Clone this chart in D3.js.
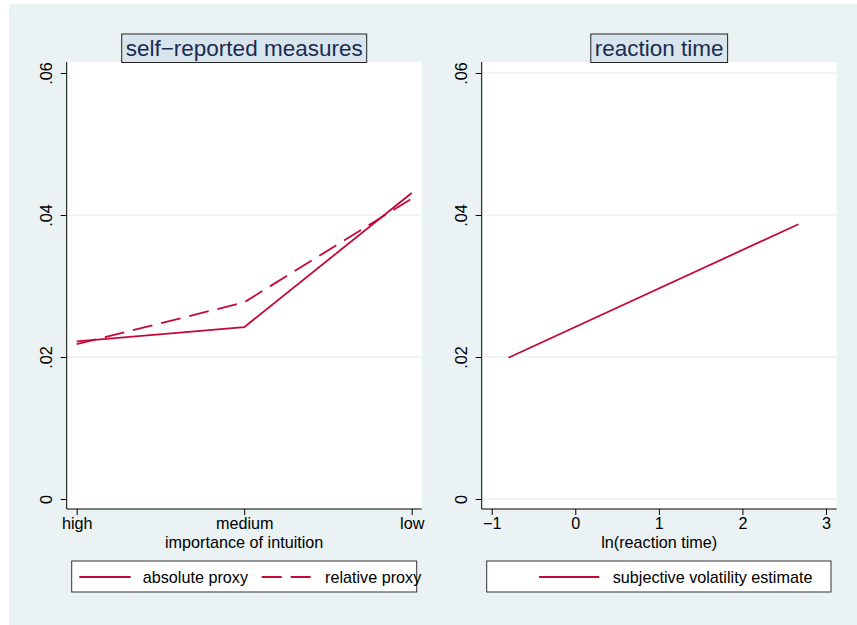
<!DOCTYPE html>
<html><head><meta charset="utf-8">
<script src="https://cdn.jsdelivr.net/npm/d3@7/dist/d3.min.js"></script>
<style>body{margin:0;background:#fff;overflow:hidden}svg{display:block;font-family:"Liberation Sans",Arial,sans-serif}</style>
</head><body>
<script>
// Data
const categories = ["high", "medium", "low"];
const absoluteProxy = [0.0222, 0.0242, 0.0431];
const relativeProxy = [0.0218, 0.0277, 0.0423];
const rtX = [-0.80, 2.67];
const rtY = [0.0199, 0.0387];
const yTicks = [0, 0.02, 0.04, 0.06];
const yTickLabels = ["0", ".02", ".04", ".06"];
const rtXTicks = [-1, 0, 1, 2, 3];

const W = 857, H = 625;
const red = "#c4093a";
const FS = 16.2;
const svg = d3.select("body").append("svg").attr("width", W).attr("height", H);
svg.append("rect").attr("x", 9).attr("y", 4).attr("width", W - 9).attr("height", H - 4).attr("fill", "#eaf2f3");

function panel(opts) {
  const {left, right, top, bottom, title, xScale, xTicks, xFmt, xLabel, gridVals} = opts;
  const y = d3.scaleLinear().domain([0, 0.06]).range([499, 73]);
  const g = svg.append("g");
  g.append("rect").attr("x", left).attr("y", top).attr("width", right - left).attr("height", bottom - top).attr("fill", "#fff");
  g.selectAll(".grid").data(gridVals).enter().append("line")
    .attr("x1", left).attr("x2", right).attr("y1", d => y(d)).attr("y2", d => y(d))
    .attr("stroke", "#eaf2f3").attr("stroke-width", 1.5);
  const ya = g.append("g").attr("transform", `translate(${left},0)`)
    .call(d3.axisLeft(y).tickValues(yTicks).tickFormat((d, i) => yTickLabels[i]).tickSize(6).tickPadding(0));
  ya.select(".domain").attr("d", `M0,${top}V${bottom}`).attr("stroke", "#000");
  ya.selectAll(".tick line").attr("stroke", "#000");
  ya.selectAll(".tick text").attr("font-size", FS).attr("fill", "#000")
    .attr("transform", "rotate(-90)").attr("x", 0).attr("y", -14.5).attr("dy", 0).attr("text-anchor", "middle");
  const xa = g.append("g").attr("transform", `translate(0,${bottom})`)
    .call(d3.axisBottom(xScale).tickValues(xTicks).tickFormat(xFmt).tickSize(6).tickPadding(2));
  xa.select(".domain").attr("d", `M${left},0H${right}`).attr("stroke", "#000");
  xa.selectAll(".tick line").attr("stroke", "#000");
  xa.selectAll(".tick text").attr("font-size", FS).attr("fill", "#000");
  g.append("text").attr("x", (left + right) / 2).attr("y", 548).attr("text-anchor", "middle")
    .attr("font-size", FS).text(xLabel);
  const cx = (left + right) / 2;
  const box = g.append("rect");
  const tt = g.append("text").attr("x", cx).attr("y", 56).attr("text-anchor", "middle")
    .attr("font-size", 22.5).attr("fill", "#1a2b52").text(title);
  const bb = tt.node().getBBox();
  box.attr("x", bb.x - 4).attr("y", 34).attr("width", bb.width + 8).attr("height", 28.5)
    .attr("fill", "#d9e5ec").attr("stroke", "#222").attr("stroke-width", 1);
  return {g, y};
}

// Left panel
const xL = d3.scalePoint().domain(categories).range([76.7, 411.7]);
const p1 = panel({left: 66.7, right: 421.7, top: 62, bottom: 509, title: "self\u2212reported measures",
  xScale: xL, xTicks: categories, xFmt: d => d, xLabel: "importance of intuition", gridVals: [0.02, 0.04]});
const line1 = d3.line().x((d, i) => xL(categories[i])).y(d => p1.y(d));
p1.g.append("path").attr("d", line1(absoluteProxy)).attr("fill", "none").attr("stroke", red).attr("stroke-width", 1.8);
p1.g.append("path").attr("d", line1(relativeProxy)).attr("fill", "none").attr("stroke", red).attr("stroke-width", 1.8)
  .attr("stroke-dasharray", "20,9");

// Right panel
const xR = d3.scaleLinear().domain([-1, 3]).range([491.7, 826]);
const p2 = panel({left: 481.7, right: 836.7, top: 62, bottom: 509, title: "reaction time",
  xScale: xR, xTicks: rtXTicks, xFmt: d => d < 0 ? "\u2212" + Math.abs(d) : String(d), xLabel: "ln(reaction time)",
  gridVals: [0, 0.02, 0.04, 0.06]});
const line2 = d3.line().x((d, i) => xR(rtX[i])).y(d => p2.y(d));
p2.g.append("path").attr("d", line2(rtY)).attr("fill", "none").attr("stroke", red).attr("stroke-width", 1.8);

// Legends
function legend(x, w, items) {
  const g = svg.append("g");
  g.append("rect").attr("x", x).attr("y", 561).attr("width", w).attr("height", 31).attr("fill", "#fff").attr("stroke", "#333").attr("stroke-width", 1);
  items.forEach(it => {
    g.append("line").attr("x1", it.x1).attr("x2", it.x2).attr("y1", 577).attr("y2", 577)
      .attr("stroke", red).attr("stroke-width", 1.8).attr("stroke-dasharray", it.dash || null);
    g.append("text").attr("x", it.tx).attr("y", 582.5).attr("font-size", FS).text(it.label);
  });
}
legend(71.7, 345, [
  {x1: 79.3, x2: 130.7, tx: 142.7, label: "absolute proxy"},
  {x1: 261.7, x2: 313.3, tx: 325, label: "relative proxy", dash: "20,9"}
]);
legend(486.7, 344.3, [
  {x1: 539, x2: 599.3, tx: 612.7, label: "subjective volatility estimate"}
]);
</script>
</body></html>
